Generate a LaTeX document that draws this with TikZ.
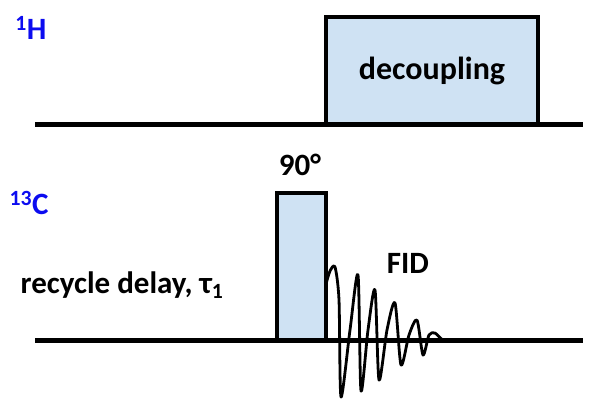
\documentclass[tikz,border=0pt]{standalone}
\usepackage{fontspec}
\setmainfont{Carlito}
\usepackage{xcolor}
\usepackage{tikz}
\usetikzlibrary{positioning}
\definecolor{PulseC}{RGB}{207,226,243}
\definecolor{NucC}{RGB}{12,12,240}
\tikzset{
  pulse/.style={draw=black,line width=4.5pt,fill=PulseC,inner sep=0pt,outer sep=0pt,
                anchor=south west,font=\fontsize{32}{36}\selectfont\bfseries},
  chan/.style={line width=5pt,black},
  nuc/.style={font=\fontsize{31}{36}\selectfont\bfseries,text=NucC,inner sep=0pt},
  lbl/.style={font=\fontsize{31}{36}\selectfont\bfseries,inner sep=0pt},
  fid/.style={line width=2.8pt,black,line join=round},
}

\begin{document}
\begin{tikzpicture}[x=1pt,y=-1pt]
  \useasboundingbox (0,0) rectangle (597,400);
  % 1H channel
  \coordinate (hL) at (35,124);
  \coordinate (hR) at (583,124);
  \draw[chan] (hL) -- (hR);
  \node[pulse,minimum width=212pt,minimum height=107pt] (dec) at (326,124) {decoupling};
  \node[nuc] (hlab) at (31,28) {\textsuperscript{1}H};
  % 13C channel
  \coordinate (cL) at (35,340);
  \coordinate (cR) at (583,340);
  \draw[chan] (cL) -- (cR);
  \node[pulse,minimum width=49pt,minimum height=147pt] (p90) at (277,340) {};
  \node[lbl] (ang) at (300,165) {90°};
  \node[nuc] (clab) at (29,203) {\textsuperscript{13}C};
  \node[lbl] (delay) at (122,285) {recycle delay, τ\textsubscript{1}};
  % FID
  \draw[fid] plot[smooth,tension=0.45] coordinates {
    (326,284) (330,271) (335,267) (339,300) (341,397) (350,330) (358,275)
    (361,391) (368,330) (375,290) (379,380) (387,330) (395,303) (401,365)
    (409,335) (417,320) (423,355) (429,335) (435,333) (443,340) (455,340)};
  \node[lbl] (fidlab) at (408,263) {FID};
\end{tikzpicture}
\end{document}
